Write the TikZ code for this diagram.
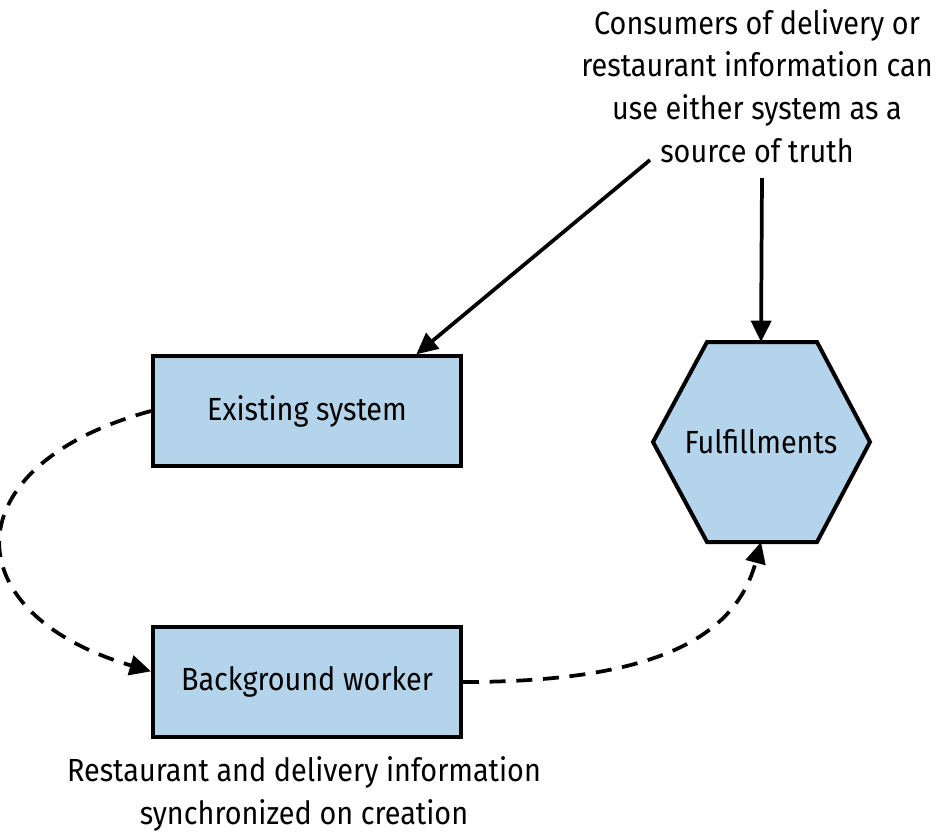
\documentclass[tikz,border=0pt]{standalone}
\usepackage{fontspec}
\setmainfont{Fira Sans}[FakeStretch=0.9]
\usetikzlibrary{arrows.meta}
\definecolor{boxblue}{HTML}{B3D4EA}
\tikzset{
  sysbox/.style={draw, line width=3pt, fill=boxblue, minimum width=231pt, minimum height=82pt, inner sep=0pt},
  link/.style={line width=2.8pt, -{Triangle[length=16pt,width=15pt]}},
  synclink/.style={link, dash pattern=on 12pt off 8pt},
  note/.style={align=center, inner sep=0.75pt}
}
\begin{document}
\begin{tikzpicture}[x=0.75pt,y=0.75pt,yscale=-1,xscale=1]
    \fontsize{24}{32}\selectfont
    \path[use as bounding box] (0,0) rectangle (940,836);

    % Boxes
    \node [sysbox] (exist) at (307,411) {Existing system};
    \node [sysbox] (back) at (307,682) {Background worker};
    % Hexagon
    \draw [line width=3pt, fill=boxblue, line join=miter] (653,442) -- (707,342) -- (817,342) -- (870,442) -- (817,542) -- (707,542) -- cycle;
    \node [inner sep=0pt] (ful) at (761,442) {Fulfillments};
    \coordinate (fultop) at (761,342);
    \coordinate (fulbot) at (761,542);

    % Text Node
    \node [note] (consumers) at (757,86) {Consumers of delivery or\\restaurant information can\\use either system as a\\source of truth};
    % Text Node
    \node [note] (sync) at (304,794) {Restaurant and delivery information\\synchronized on creation};

    %Straight Lines
    \coordinate (c1) at (650,160);
    \coordinate (c2) at (762,178);
    \draw [link] (c1) -- ([xshift=82pt]exist.north);
    \draw [link] (c2) -- (fultop);
    %Curves
    \draw [synclink] (exist.west) .. controls (-48,465) and (-48,613) .. ([yshift=-8pt]back.west);
    \draw [synclink] (back.east) .. controls (650,682) and (735,640) .. (fulbot);
\end{tikzpicture}
\end{document}
